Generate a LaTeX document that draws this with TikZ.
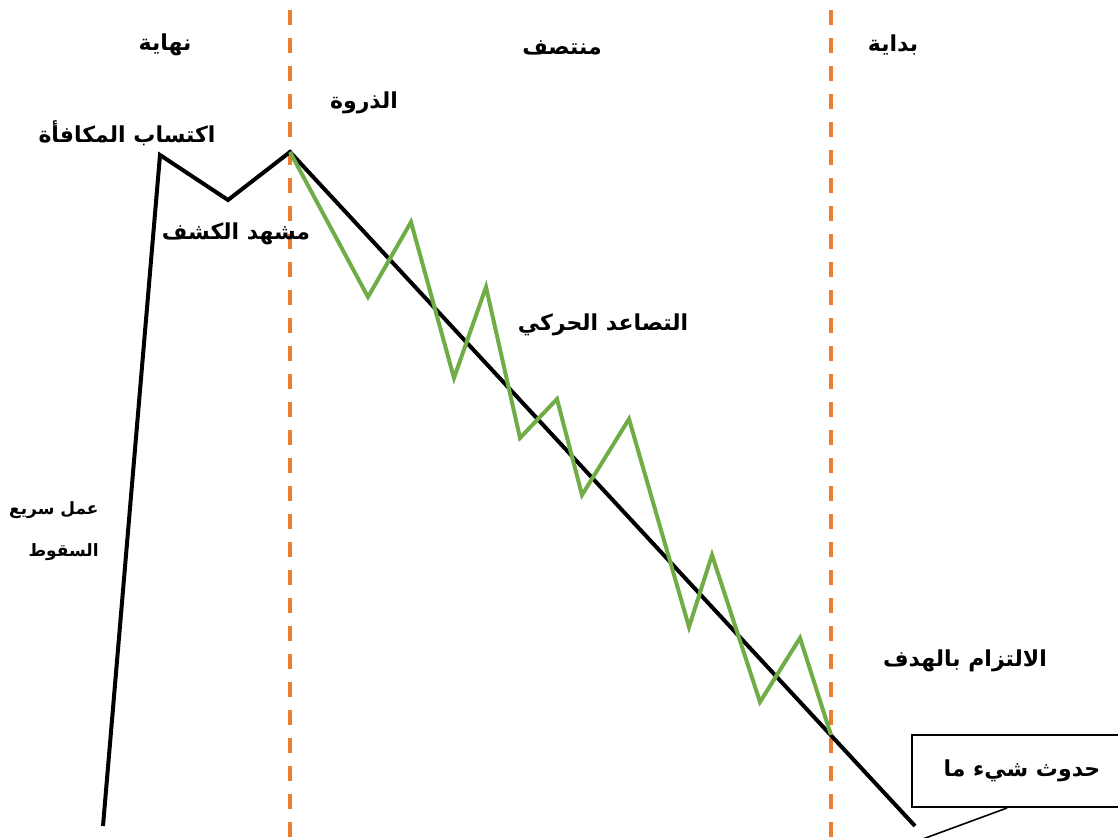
\documentclass[tikz,border=0pt]{standalone}
\usepackage{fontspec}
\usetikzlibrary{positioning}
\TeXXeTstate=1
\newfontfamily\arabicfont[Script=Arabic]{DejaVu Sans}
\definecolor{cut}{HTML}{ED7D31}
\definecolor{rise}{HTML}{70AD47}
\tikzset{
  lbl/.style={font=\arabicfont\bfseries\fontsize{11}{13}\selectfont,inner sep=1pt},
  slbl/.style={lbl,font=\arabicfont\bfseries\fontsize{8.5}{21}\selectfont,align=right},
  plot/.style={line width=2pt,draw=black,line join=miter},
  zig/.style={line width=2pt,draw=rise},
  sep/.style={line width=2pt,draw=cut,dash pattern=on 7.5pt off 6.5pt},
  evbox/.style={lbl,draw,line width=1pt,minimum width=110pt,minimum height=36pt},
}

\begin{document}
\begin{tikzpicture}[x=0.5pt,y=-0.5pt]
\useasboundingbox (0,0) rectangle (1118,838);
% ---- act borders ----
\foreach \x in {290,831}{\draw[sep] (\x,10) -- (\x,838);}
% ---- story curve ----
\draw[plot] (103,826) -- (160,155) -- (228,200) -- (290,152) -- (915,826);
\draw[zig] (290,152) -- (368,297) -- (411,222) -- (454,378) -- (486,287)
  -- (520,438) -- (557,399) -- (582,495) -- (629,419) -- (689,627)
  -- (712,555) -- (760,702) -- (800,638) -- (831,735);
% ---- act names ----
\node[lbl] (ending) at (165,45) {\beginR نهاية\endR};
\node[lbl] (middle) at (562,48) {\beginR منتصف\endR};
\node[lbl] (start) at (893,45) {\beginR بداية\endR};
% ---- stages ----
\node[lbl] (climax) at (364,103) {\beginR الذروة\endR};
\node[lbl] (reward) at (127,133) {\beginR اكتساب المكافأة\endR};
\node[lbl] (reveal) at (236,234) {\beginR مشهد الكشف\endR};
\node[lbl] (rising) at (603,325) {\beginR التصاعد الحركي\endR};
\node[slbl,anchor=east] (falling) at (101,531) {\beginR عمل سريع\endR\\\beginR السقوط\endR};
\node[lbl] (goal) at (965,661) {\beginR الالتزام بالهدف\endR};
\node[evbox,anchor=west] (event) at (911,771) {\beginR حدوث شيء ما\endR};
\coordinate (tip) at (920,840);
\draw[line width=0.8pt] ([xshift=-7.5pt]event.south) -- (tip);
\end{tikzpicture}
\end{document}
